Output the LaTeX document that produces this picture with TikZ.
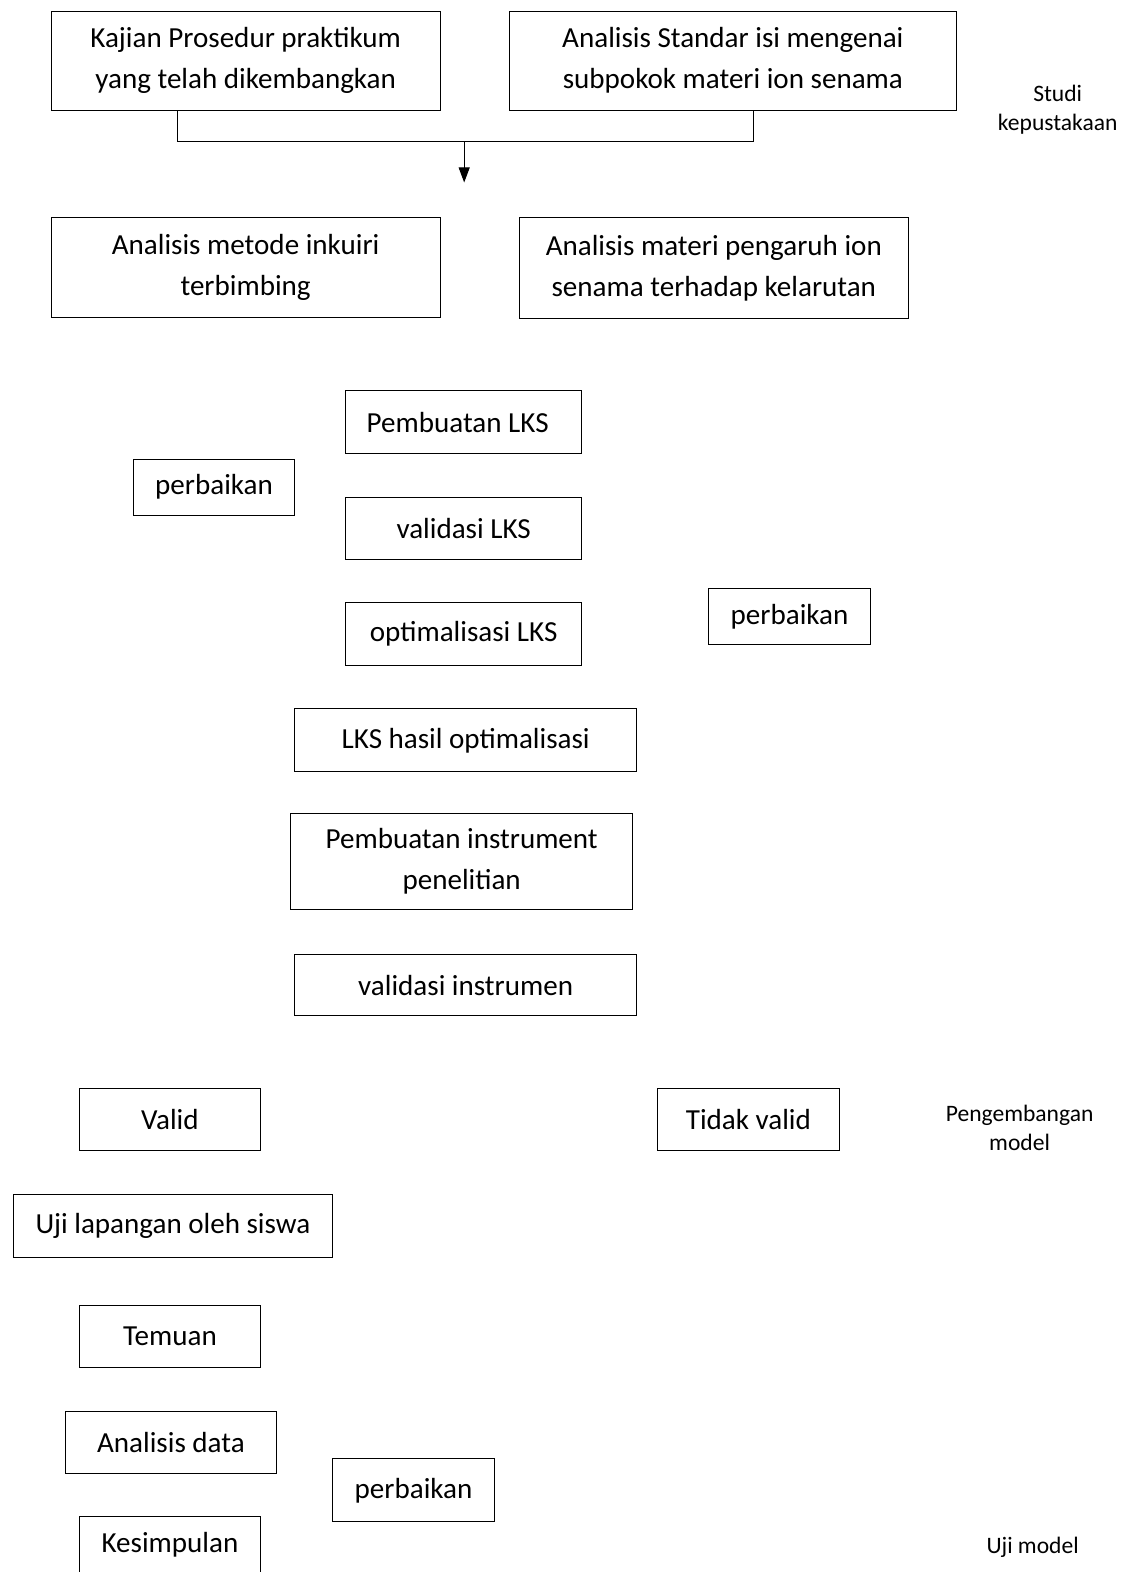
\documentclass[tikz,border=0pt]{standalone}
\usepackage{fontspec}
\setmainfont{Carlito}
\usetikzlibrary{arrows.meta}
\begin{document}
\begin{tikzpicture}[x=1pt,y=-1pt,
  box/.style={draw=black,line width=1pt,align=center,inner sep=0pt,
    font=\fontsize{29}{41}\selectfont},
  side/.style={align=center,inner sep=0pt,font=\fontsize{23.5}{29}\selectfont},
  conn/.style={draw=black,line width=1pt}]
\clip (0,0) rectangle (1133,1568);
\fill[white] (0,0) rectangle (1133,1568);
% top
\node[box,minimum width=388,minimum height=99] (kajian) at (245,60.5) {Kajian Prosedur praktikum\\yang telah dikembangkan};
\node[box,minimum width=446,minimum height=99] (standar) at (731,60.5) {Analisis Standar isi mengenai\\subpokok materi ion senama};
\node[side] (studi) at (1055,109.5) {Studi\\kepustakaan};
\coordinate (j) at (463,141);
\coordinate (arrend) at (463,182);
\draw[conn] ([xshift=-68pt]kajian.south) |- (j) -| ([xshift=21pt]standar.south);
\draw[conn,-{Triangle[length=15pt,width=11pt]}] (j) -- (arrend);
\node[box,minimum width=388,minimum height=100] (inkuiri) at (245,267) {Analisis metode inkuiri\\terbimbing};
\node[box,minimum width=388,minimum height=101] (materi) at (712,267.5) {Analisis materi pengaruh ion\\senama terhadap kelarutan};
% LKS
\node[box,minimum width=235,minimum height=62] (buat) at (462.5,421) {Pembuatan LKS\hspace*{12pt}};
\node[box,minimum width=161,minimum height=56] (perb1) at (213.5,486) {perbaikan};
\node[box,minimum width=235,minimum height=62] (val) at (462.5,527) {validasi LKS};
\node[box,minimum width=235,minimum height=63] (opt) at (462.5,632.5) {optimalisasi LKS};
\node[box,minimum width=161,minimum height=56] (perb2) at (787.5,615) {perbaikan};
\node[box,minimum width=341,minimum height=63] (hasil) at (464.5,738.5) {LKS hasil optimalisasi};
\node[box,minimum width=341,minimum height=96] (instr) at (460.5,859) {Pembuatan instrument\\penelitian};
\node[box,minimum width=341,minimum height=61] (valins) at (464.5,982.5) {validasi instrumen};
% bottom
\node[box,minimum width=181,minimum height=62] (valid) at (169.5,1117) {Valid};
\node[box,minimum width=181,minimum height=62] (tidak) at (746.5,1117) {Tidak valid};
\node[side] (pengem) at (1017,1125) {Pengembangan\\model};
\node[box,minimum width=319,minimum height=63] (uji) at (172.5,1222.5) {Uji lapangan oleh siswa};
\node[box,minimum width=181,minimum height=62] (temuan) at (169.5,1333) {Temuan};
\node[box,minimum width=211,minimum height=62] (data) at (170.5,1439) {Analisis data};
\node[box,minimum width=161,minimum height=63] (perb3) at (412.5,1486.5) {perbaikan};
\node[box,anchor=north,minimum width=181,text height=36pt,text depth=64pt,inner ysep=0pt] (kes) at (169.5,1512) {Kesimpulan};
\node[side] (ujimodel) at (1030,1543) {Uji model};
\end{tikzpicture}
\end{document}
